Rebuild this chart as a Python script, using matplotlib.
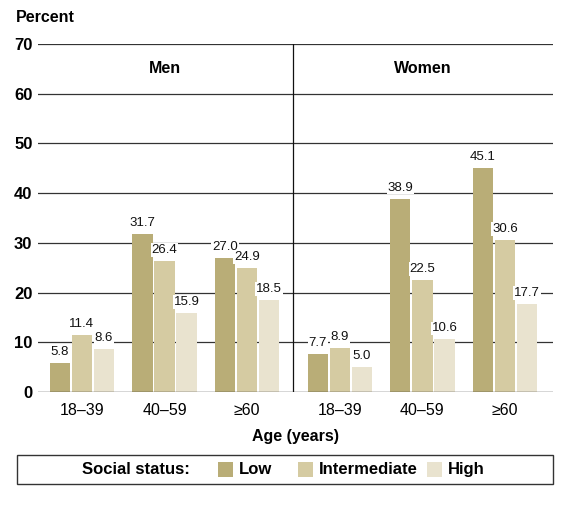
import matplotlib
matplotlib.use("Agg")
import matplotlib.pyplot as plt
from matplotlib.patches import Rectangle
import numpy as np

plt.rcParams['font.family'] = ['Liberation Sans Narrow', 'Liberation Sans', 'DejaVu Sans']

age_groups = ["18–39", "40–59", "≥60"]
sexes = ["Men", "Women"]
status = ["Low", "Intermediate", "High"]
men_low = [5.8, 31.7, 27.0]
men_mid = [11.4, 26.4, 24.9]
men_high = [8.6, 15.9, 18.5]
women_low = [7.7, 38.9, 45.1]
women_mid = [8.9, 22.5, 30.6]
women_high = [5.0, 10.6, 17.7]
colors = ["#b9ad77", "#d5cba2", "#e9e3cf"]

fig = plt.figure(figsize=(5.74, 5.05), dpi=100)
ax = fig.add_axes([38/574, 1-392/505, (553-38)/574, 348/505])

sep = 2.56
centers_men = np.arange(3)
centers_women = np.arange(3) + 3.12
w = 0.245
pitch = 0.267
series = [(men_low, women_low), (men_mid, women_mid), (men_high, women_high)]
for i, (m, wv) in enumerate(series):
    off = (i - 1) * pitch
    for cs, vals in ((centers_men, m), (centers_women, wv)):
        bars = ax.bar(cs + off, vals, width=w, color=colors[i], zorder=2)
        for b, v in zip(bars, vals):
            ax.text(b.get_x() + b.get_width()/2, v + 1.0, f"{v:.1f}", ha='center', va='bottom',
                    fontsize=9.5, zorder=3, color='#111111',
                    bbox=dict(facecolor='white', edgecolor='none', pad=0.6))

for y in range(10, 80, 10):
    ax.axhline(y, color='#333333', lw=0.9, zorder=1)
ax.axhline(0, color='#333333', lw=1.0, zorder=4)
ax.plot([sep, sep], [0, 70], color='#111111', lw=0.9, zorder=4)

ax.set_xlim(-0.53, 5.70)
ax.set_ylim(0, 70)
ax.set_yticks(range(0, 80, 10))
ax.set_yticklabels([str(v) for v in range(0, 80, 10)], fontsize=12, fontweight='bold')
ax.set_xticks(list(centers_men) + list(centers_women))
ax.set_xticklabels(age_groups * 2, fontsize=11.5)
ax.tick_params(length=0, pad=4)
ax.tick_params(axis='x', pad=8)
for s in ax.spines.values():
    s.set_visible(False)

ax.text(1, 65.1, sexes[0], ha='center', va='center', fontsize=11.5, fontweight='bold')
ax.text(4.12, 65.1, sexes[1], ha='center', va='center', fontsize=11.5, fontweight='bold')

ax.set_xlabel("Age (years)", fontsize=11.5, fontweight='bold', labelpad=8)
fig.text(16/574, 1-18/505, "Percent", fontsize=11.5, fontweight='bold', va='center', ha='left')

# legend
fig.patches.append(Rectangle((17/574, 1-484/505), (553-17)/574, 29/505, transform=fig.transFigure,
                             facecolor='white', edgecolor='#333333', lw=1.0))
ly = 1-469.5/505
fig.text(190/574, ly, "Social status:", ha='right', va='center', fontsize=12, fontweight='bold')
sq_x = [218, 298, 427]
for x0, c, lab in zip(sq_x, colors, status):
    fig.patches.append(Rectangle((x0/574, 1-477/505), 15/574, 15/505, transform=fig.transFigure,
                                 facecolor=c, edgecolor='none'))
    fig.text((x0+21)/574, ly, lab, ha='left', va='center', fontsize=12, fontweight='bold')

fig.savefig("out.png", dpi=100)
